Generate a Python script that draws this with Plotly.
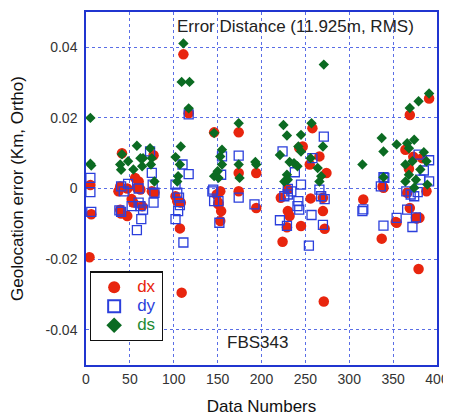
import plotly.graph_objects as go

# dx (red circles)
dx_x = [5, 4, 6, 41, 56, 60, 58, 37, 39, 47, 62, 52, 54, 39, 47, 40, 75, 78, 64, 77,
        111, 117, 109, 107, 102, 104, 108,
        146, 153, 149, 151, 154, 153, 151,
        174, 174, 174, 194, 194,
        247, 243, 222, 230, 232, 245, 229, 224, 230,
        258, 266, 255, 274, 270, 256, 271, 272, 270,
        316, 337, 338, 339, 353, 354,
        369, 391, 364, 383, 368, 388, 369, 376, 380, 379, 377, 373, 366]
dx_y = [0.001, -0.0195, -0.0073, 0.010, 0.003, 0.002, 0.0002, -0.0008, 0.0006, 0.0, -0.0003, -0.003, -0.004, -0.006, -0.0078, -0.0071, -0.0008, -0.0012, -0.005, 0.0094,
        0.038, 0.0213, -0.0295, -0.0113, -0.0022, -0.0036, -0.004,
        0.0159, -0.0008, -0.0017, -0.004, -0.0064, -0.0092, -0.0045,
        0.0159, 0.0044, -0.0008, 0.0044, -0.0055,
        0.0119, 0.0115, -0.0026, -0.0064, -0.0078, -0.0106, -0.011, -0.0151, -0.0003,
        0.0171, 0.0091, 0.0068, 0.0044, -0.0026, -0.0028, -0.032, -0.0114, -0.0064,
        -0.0031, -0.0142, 0.0006, 0.0002, -0.0095, -0.0097,
        0.0208, 0.0255, 0.011, 0.0086, 0.0056, -0.0008, -0.0055, -0.0083, -0.0083, -0.0228, -0.0085, 0.009, -0.0012]

# dy (blue open squares)
dy_x = [5, 5, 6, 40, 43, 48, 60, 73, 75, 76, 78, 77, 52, 60, 62, 65, 38, 63, 58, 40,
        110, 117, 102, 104, 106, 107, 105, 102, 111, 117,
        155, 154, 145, 146, 151, 152, 144,
        174, 174, 192,
        224, 238, 245, 234, 230, 226, 241, 243, 221, 229, 242, 230,
        258, 271, 266, 268, 272, 254, 257, 270,
        315, 316, 339, 336, 339,
        354, 372, 379, 391, 385, 381, 391, 365, 370, 374, 366, 376, 340, 378]
dy_y = [0.003, -0.001, -0.0066, 0.0006, -0.0008, 0.0013, 0.0, 0.0105, 0.0044, 0.0011, -0.0012, -0.004, -0.005, -0.004, -0.005, -0.006, -0.0062, -0.0087, -0.0118, -0.0066,
        0.0068, 0.0041, 0.0011, -0.0012, -0.0026, -0.0047, -0.0064, -0.0087, -0.0153, 0.021,
        0.0091, 0.0039, -0.0003, -0.0036, -0.0036, -0.0097, -0.0008,
        0.0093, -0.0026, -0.0045,
        0.0105, 0.0046, 0.0011, -0.0008, -0.0017, -0.0022, -0.005, -0.006, -0.009, -0.0106, -0.0036, -0.0001,
        0.0086, 0.0147, -0.0003, -0.0022, -0.003, -0.0162, -0.0075, -0.0103,
        -0.0064, -0.0059, 0.0032, 0.0006, -0.0105,
        -0.0083, -0.0109, 0.0096, 0.008, 0.0051, 0.0025, 0.002, -0.0008, -0.0017, -0.0022, -0.006, -0.0082, 0.003, -0.001]

# ds (green diamonds)
ds_x = [5, 5, 6, 41, 39, 40, 48, 58, 62, 73, 75, 74, 54, 64, 78, 65,
        111, 109, 118, 117, 108, 102, 107, 105, 104,
        155, 153, 155, 150, 146, 151, 146,
        174, 174, 175, 194, 193,
        225, 229, 245, 242, 245, 221, 232, 237, 241, 229, 230, 226,
        257, 256, 270, 264, 268, 266, 271,
        315, 337, 339, 339,
        354, 369, 379, 391, 366, 374, 368, 385, 388, 372, 364, 381, 368, 376, 364, 389, 374]
ds_y = [0.020, 0.007, 0.0065, 0.0097, 0.0068, 0.0053, 0.0077, 0.0121, 0.0086, 0.0114, 0.0086, 0.0068, 0.0054, 0.0063, 0.002, 0.0086,
        0.0411, 0.0302, 0.0302, 0.0227, 0.0119, 0.0089, 0.0068, 0.0035, 0.002,
        0.011, 0.0091, 0.0068, 0.0049, 0.0035, 0.003, 0.0157,
        0.0185, 0.0068, 0.003, 0.0068, 0.0075,
        0.018, 0.015, 0.0152, 0.0119, 0.0105, 0.0095, 0.0075, 0.0072, 0.0063, 0.0039, 0.0025, 0.002,
        0.0185, 0.0086, 0.0119, 0.0058, 0.0035, 0.002, 0.0351,
        0.0068, 0.0143, 0.0105, 0.0032,
        0.0125, 0.0228, 0.0247, 0.0269, 0.0128, 0.0138, 0.0114, 0.0103, 0.0077, 0.0077, 0.0068, 0.0054, 0.0039, 0.0025, 0.002, 0.0011, 0.0002]

x_ticks = [0, 50, 100, 150, 200, 250, 300, 350, 400]
y_ticks = [-0.04, -0.02, 0, 0.02, 0.04]
y_tick_text = ["-0.04", "-0.02", "0", "0.02", "0.04"]

RED = "#e8250e"
BLUE = "#2b3fdc"
GREEN = "#0b6b22"
AXIS = "#2035d0"
GRID = "#5a6ee6"
FONT = "Liberation Sans, Arial, sans-serif"

fig = go.Figure()
fig.add_trace(go.Scatter(x=dx_x, y=dx_y, mode="markers",
                         name=f"<span style='color:{RED};font-size:17px'>dx</span>",
                         marker=dict(symbol="circle", size=10.5, color=RED, line=dict(width=0))))
fig.add_trace(go.Scatter(x=dy_x, y=dy_y, mode="markers",
                         name=f"<span style='color:{BLUE};font-size:17px'>dy</span>",
                         marker=dict(symbol="square-open", size=9, color=BLUE, line=dict(width=1.3, color=BLUE))))
fig.add_trace(go.Scatter(x=ds_x, y=ds_y, mode="markers",
                         name="<span style='color:#1f8a35;font-size:17px'>ds</span>",
                         marker=dict(symbol="diamond", size=8, color=GREEN, line=dict(width=0))))

fig.update_layout(
    width=443, height=411,
    margin=dict(l=78, r=11, t=2, b=54),
    paper_bgcolor="white", plot_bgcolor="white",
    font=dict(family=FONT, color="#222"),
    showlegend=True,
    legend=dict(x=0.011, y=0.265, xanchor="left", yanchor="top",
                bordercolor="#111", borderwidth=1.3, bgcolor="white",
                font=dict(size=12, family=FONT), entrywidth=42, itemwidth=36, tracegroupgap=0,
                itemsizing="constant"),
    xaxis=dict(range=[0, 400], tickvals=x_ticks, showgrid=True, gridcolor=GRID, griddash="dot",
               gridwidth=1, zeroline=False, showline=True, linecolor=AXIS, linewidth=1.5, mirror=True,
               ticks="", tickfont=dict(size=14, color="#333"), ticklabeloverflow="allow",
               title=dict(text="Data Numbers", font=dict(size=17, color="#111"), standoff=15)),
    yaxis=dict(range=[-0.05, 0.05], tickvals=y_ticks, ticktext=y_tick_text, showgrid=True, gridcolor=GRID,
               griddash="dot", gridwidth=1, zeroline=False, showline=True, linecolor=AXIS, linewidth=1.5,
               mirror=True, ticks="", tickfont=dict(size=14, color="#333"), ticklabelstandoff=4,
               title=dict(text="Geolocation error (Km, Ortho)", font=dict(size=17, color="#111"), standoff=18)),
    annotations=[
        dict(text="Error Distance (11.925m, RMS)", x=0.598, y=(365 - 25) / 355, xref="paper", yref="paper",
             xanchor="center", yanchor="middle", showarrow=False, font=dict(size=17, color="#222")),
        dict(text="FBS343", x=0.489, y=(365 - 342) / 355, xref="paper", yref="paper",
             xanchor="center", yanchor="middle", showarrow=False, font=dict(size=17, color="#222")),
    ],
)

fig.write_html("out.html")
